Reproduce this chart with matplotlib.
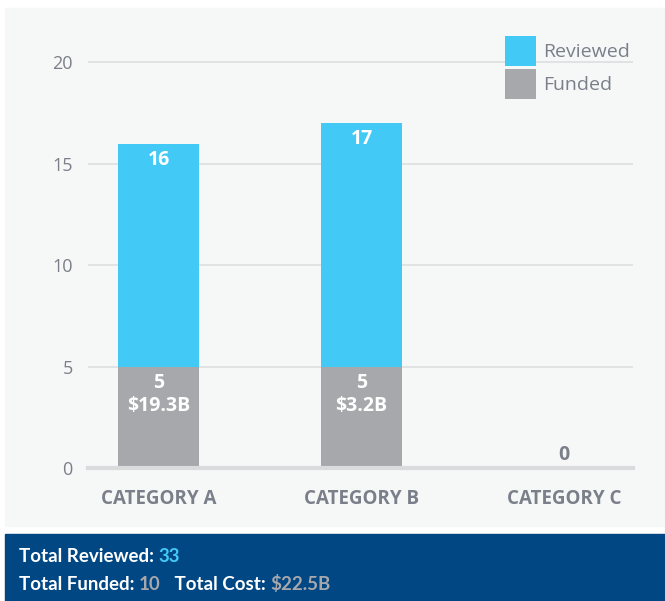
import matplotlib.pyplot as plt
from matplotlib.patches import Rectangle

categories = ['CATEGORY A', 'CATEGORY B', 'CATEGORY C']
reviewed = [16, 17, 0]
funded = [5, 5, 0]
costs = ['$19.3B', '$3.2B', '']
yticks = [0, 5, 10, 15, 20]

total_reviewed = sum(reviewed)
total_funded = sum(funded)
total_cost = '$22.5B'

blue = '#43C9F6'
grey = '#A7A8AC'
text_grey = '#7A7F89'
navy = '#004784'

plt.rcParams['font.family'] = ['Open Sans', 'DejaVu Sans']

W, H = 665, 601
fig = plt.figure(figsize=(W / 100, H / 100), dpi=100)
fig.patch.set_facecolor('white')

# light panel behind the chart and the dark footer band
fig.patches.append(Rectangle((5 / W, 1 - 526 / H), 660 / W, 518 / H,
                             transform=fig.transFigure, color='#F6F8F8', zorder=-5))
fig.patches.append(Rectangle((5 / W, 0), 660 / W, 67 / H,
                             transform=fig.transFigure, color=navy, zorder=-5))

ax = fig.add_axes([88 / W, 1 - 468 / H, 545 / W, 436 / H])
ax.set_facecolor('none')

x = range(len(categories))
ax.bar(x, reviewed, width=0.4, color=blue, zorder=2, label='Reviewed')
ax.bar(x, funded, width=0.4, color=grey, zorder=3, label='Funded')

for i in x:
    if reviewed[i] > 0:
        ax.text(i, reviewed[i] - 0.3, str(reviewed[i]), ha='center', va='top',
                color='white', fontsize=14, fontweight='bold', zorder=4)
    if funded[i] > 0:
        ax.text(i, funded[i] - 0.3, str(funded[i]) + '\n' + costs[i], ha='center', va='top',
                color='white', fontsize=14, fontweight='bold', linespacing=1.2, zorder=4)
    else:
        ax.text(i, 0.62, '0', ha='center', va='center', color=text_grey,
                fontsize=14, fontweight='bold', zorder=4)

ax.set_xlim(-0.35, 2.34)
ax.set_ylim(0, 21.5)
ax.set_yticks(yticks)
ax.set_xticks(list(x))
ax.set_xticklabels(categories, fontweight='bold')
ax.tick_params(axis='x', length=0, pad=15, labelsize=13.5, labelcolor=text_grey)
ax.tick_params(axis='y', length=0, pad=11, labelsize=13, labelcolor=text_grey)
ax.grid(axis='y', color='#DEE0E1', linewidth=1.3, zorder=1)
for s in ['top', 'right', 'left']:
    ax.spines[s].set_visible(False)
ax.spines['bottom'].set_color('#D9DBDC')
ax.spines['bottom'].set_linewidth(3)
ax.spines['bottom'].set_zorder(5)

leg = ax.legend(loc='upper right', bbox_to_anchor=(0.995, 1 - 4 / 436), frameon=False,
                fontsize=14, handlelength=1.55, handleheight=2.0, handletextpad=0.4,
                labelspacing=0.15, borderaxespad=0, borderpad=0)
for t in leg.get_texts():
    t.set_color(text_grey)

# footer totals
def footer_line(y, parts):
    renderer = fig.canvas.get_renderer()
    xpos = 19 / W
    for s, c in parts:
        t = fig.text(xpos, y, s, color=c, fontsize=13.5, fontweight='bold', va='center',
                     family=['Lato', 'DejaVu Sans'])
        bb = t.get_window_extent(renderer=renderer)
        xpos += bb.width / W

footer_line(1 - 556 / H, [('Total Reviewed: ', 'white'), (str(total_reviewed), blue)])
footer_line(1 - 584 / H, [('Total Funded: ', 'white'), (str(total_funded), grey),
                          ('   Total Cost: ', 'white'), (total_cost, grey)])

fig.savefig('out.png', dpi=100, facecolor=fig.get_facecolor())
